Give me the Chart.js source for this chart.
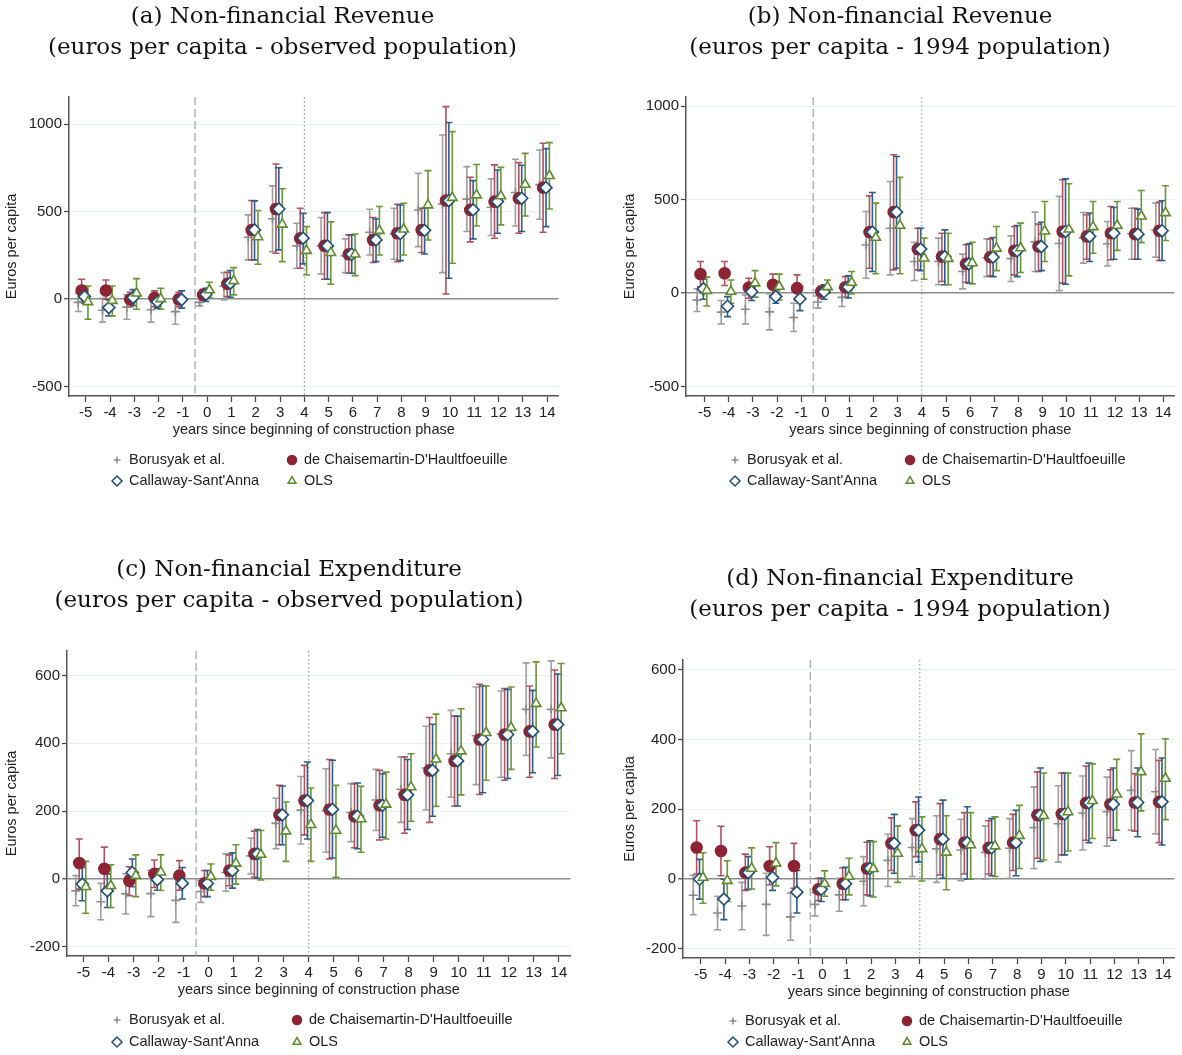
<!DOCTYPE html>
<html>
<head>
<meta charset="utf-8">
<script src="https://cdn.jsdelivr.net/npm/chart.js@4.4.1/dist/chart.umd.min.js"></script>
<style>
  body { margin: 0; background: #fff; width: 1182px; height: 1055px; position: relative; overflow: hidden; }
  canvas { position: absolute; }
</style>
</head>
<body>
<canvas id="revObs"></canvas>
<canvas id="rev94"></canvas>
<canvas id="expObs"></canvas>
<canvas id="exp94"></canvas>
<script>
// years relative to start of construction
const years = [-5, -4, -3, -2, -1, 0, 1, 2, 3, 4, 5, 6, 7, 8, 9, 10, 11, 12, 13, 14];
const revTicks = [-500, 0, 500, 1000];
const expTicks = [-200, 0, 200, 400, 600];
const eventLines = [-0.5, 4];

// (a) revenue, observed population
const revObsBor   = [-18, -63, -45, -60, -71, -18, 74, 354, 460, 305, 306, 248, 383, 375, 510, 545, 572, 526, 610, 655];
const revObsBorLo = [-70, -131, -114, -131, -143, -38, -4, 225, 272, 177, 145, 152, 253, 229, 301, 152, 387, 364, 419, 457];
const revObsBorHi = [34, 5, 25, 10, 0, 2, 152, 482, 648, 434, 467, 345, 514, 520, 720, 939, 758, 688, 800, 853];
const revObsDch   = [50, 50, 0, 8, 0, 25, 88, 396, 516, 349, 305, 257, 339, 377, 396, 564, 511, 558, 577, 638];
const revObsDchLo = [-15, 0, -42, -42, -42, -8, 15, 225, 263, 177, 114, 149, 210, 215, 267, 30, 328, 349, 377, 383];
const revObsDchHi = [114, 110, 40, 48, 40, 57, 154, 564, 773, 520, 495, 368, 467, 543, 520, 1101, 697, 768, 781, 892];
const revObsCs    = [15, -48, 10, -15, -2, 28, 92, 396, 516, 349, 305, 257, 339, 376, 394, 564, 511, 558, 577, 638];
const revObsCsLo  = [-23, -95, -35, -51, -51, -13, 11, 225, 282, 202, 114, 149, 215, 221, 259, 120, 345, 377, 387, 415];
const revObsCsHi  = [59, -4, 55, 25, 48, 63, 164, 562, 752, 491, 495, 368, 459, 539, 520, 1010, 678, 739, 766, 861];
const revObsOls   = [-15, -8, 34, 2, null, 53, 105, 356, 428, 278, 266, 257, 392, 400, 538, 581, 595, 590, 656, 706];
const revObsOlsLo = [-114, -95, -57, -57, null, 10, 25, 200, 215, 139, 86, 135, 253, 253, 339, 206, 419, 425, 476, 516];
const revObsOlsHi = [76, 76, 118, 63, null, 97, 181, 507, 632, 415, 442, 373, 530, 549, 735, 958, 770, 754, 834, 895];

// (b) revenue, 1994 population
const rev94Bor   = [-37, -101, -86, -100, -130, -47, -22, 258, 348, 170, 170, 116, 190, 185, 275, 266, 296, 265, 318, 337];
const rev94BorLo = [-98, -164, -164, -196, -205, -80, -71, 80, 98, 68, 45, 23, 89, 63, 116, 14, 161, 146, 182, 193];
const rev94BorHi = [23, -39, -9, -4, -54, -14, 27, 437, 598, 273, 295, 209, 291, 307, 434, 518, 432, 384, 455, 482];
const rev94Dch   = [102, 107, 30, 45, 27, 9, 32, 327, 434, 236, 196, 157, 193, 227, 250, 330, 304, 321, 316, 334];
const rev94DchLo = [34, 41, -27, -14, -39, -27, -21, 134, 125, 125, 63, 59, 93, 98, 116, 54, 182, 179, 182, 175];
const rev94DchHi = [170, 170, 80, 102, 98, 39, 89, 521, 741, 348, 321, 259, 291, 357, 370, 607, 420, 464, 455, 488];
const rev94Cs    = [23, -70, 8, -18, -30, 8, 33, 327, 434, 236, 196, 157, 193, 227, 250, 330, 304, 321, 316, 334];
const rev94CsLo  = [-32, -125, -39, -54, -93, -32, -25, 116, 134, 121, 45, 54, 89, 89, 121, 48, 170, 182, 182, 175];
const rev94CsHi  = [75, -18, 54, 18, 36, 45, 93, 539, 732, 348, 339, 264, 298, 362, 380, 612, 429, 459, 450, 495];
const rev94Ols   = [14, 9, 54, 36, null, 34, 57, 298, 362, 187, 185, 162, 240, 242, 332, 342, 355, 362, 412, 430];
const rev94OlsLo = [-68, -54, -21, -36, null, 0, -4, 104, 104, 75, 45, 50, 121, 111, 170, 93, 214, 229, 271, 282];
const rev94OlsHi = [86, 71, 121, 102, null, 71, 116, 482, 620, 295, 321, 273, 357, 375, 491, 586, 491, 491, 550, 575];

// (c) expenditure, observed population
const expObsBor   = [-35, -67, -44, -43, -63, -37, 19, 68, 164, 203, 202, 196, 233, 264, 327, 369, 422, 427, 500, 500];
const expObsBorLo = [-79, -120, -103, -111, -128, -69, -36, 15, 89, 103, 79, 110, 143, 167, 204, 241, 278, 300, 364, 357];
const expObsBorHi = [10, -13, 15, 25, 3, -5, 74, 121, 238, 302, 325, 281, 323, 360, 450, 497, 566, 554, 637, 643];
const expObsDch   = [47, 30, -5, 15, 10, -13, 25, 74, 189, 231, 205, 185, 217, 248, 320, 348, 411, 426, 435, 455];
const expObsDchLo = [-30, -34, -49, -25, -33, -52, -20, 5, 101, 130, 59, 92, 115, 135, 167, 215, 249, 291, 300, 296];
const expObsDchHi = [118, 94, 36, 56, 54, 25, 71, 141, 276, 335, 352, 281, 320, 360, 476, 480, 574, 561, 569, 616];
const expObsCs    = [-15, -35, 19, -2, -13, -13, 25, 74, 189, 231, 205, 185, 217, 248, 320, 348, 411, 426, 435, 455];
const expObsCsLo  = [-64, -84, -23, -33, -59, -52, -27, 2, 101, 118, 62, 89, 123, 146, 185, 215, 254, 296, 313, 305];
const expObsCsHi  = [34, 15, 59, 30, 34, 25, 77, 146, 274, 345, 350, 283, 310, 352, 456, 480, 569, 559, 556, 604];
const expObsOls   = [-23, -20, 10, 20, null, 7, 46, 72, 141, 160, 143, 177, 220, 271, 353, 377, 431, 446, 517, 504];
const expObsOlsLo = [-101, -84, -52, -34, null, -33, -15, -3, 52, 52, 5, 79, 118, 170, 214, 248, 291, 323, 389, 369];
const expObsOlsHi = [52, 42, 71, 71, null, 44, 101, 143, 227, 268, 276, 273, 315, 369, 486, 502, 569, 566, 640, 635];

// (d) expenditure, 1994 population
const exp94Bor   = [-47, -98, -78, -73, -109, -73, -46, -7, 53, 90, 86, 83, 76, 88, 147, 158, 189, 193, 254, 250];
const exp94BorLo = [-103, -146, -146, -162, -176, -106, -93, -77, -22, 7, -10, -5, -1, 2, 30, 48, 83, 94, 140, 129];
const exp94BorHi = [10, -50, -10, 16, -41, -40, 2, 64, 128, 173, 181, 171, 152, 173, 264, 267, 295, 292, 368, 371];
const exp94Dch   = [90, 80, 18, 37, 37, -30, -14, 30, 102, 140, 114, 104, 89, 104, 183, 186, 218, 214, 219, 221];
const exp94DchLo = [14, 9, -33, -17, -27, -62, -60, -46, 24, 64, 11, 14, 14, 24, 59, 69, 111, 118, 137, 104];
const exp94DchHi = [167, 151, 71, 92, 102, 2, 32, 105, 175, 221, 216, 190, 167, 185, 307, 304, 324, 313, 302, 340];
const exp94Cs    = [-1, -58, 18, 4, -38, -30, -14, 30, 102, 140, 114, 104, 89, 104, 183, 186, 218, 214, 219, 221];
const exp94CsLo  = [-58, -117, -30, -33, -98, -65, -60, -49, 16, 48, 2, -1, 9, 9, 50, 69, 104, 111, 121, 97];
const exp94CsHi  = [56, -1, 64, 43, 24, 2, 33, 109, 185, 235, 226, 207, 173, 197, 318, 304, 332, 318, 318, 347];
const exp94Ols   = [4, -5, 30, 45, null, -14, 7, 29, 73, 86, 76, 97, 94, 124, 181, 192, 224, 243, 307, 288];
const exp94OlsLo = [-70, -65, -29, -20, null, -50, -46, -52, -10, -6, -31, -1, 7, 30, 54, 80, 116, 140, 195, 170];
const exp94OlsHi = [75, 52, 89, 104, null, 23, 59, 107, 152, 178, 181, 190, 178, 211, 304, 304, 330, 343, 416, 402];

const seriesNames = ["Borusyak et al.", "de Chaisemartin-D'Haultfoeuille", "Callaway-Sant'Anna", "OLS"];

// marker look per estimator, in legend order
const looks = [
  { style: 'cross',   r: 4.5, shift: -0.31, line: '#9e9e9e', mark: '#8a8a8a', fill: '#8a8a8a', order: 4 },
  { style: 'circle',  r: 5.5, shift: -0.17, line: '#b5505d', mark: '#8c2433', fill: '#8c2433', order: 3 },
  { style: 'rectRot', r: 6,   shift: -0.05, line: '#2c5d8c', mark: '#1f4e79', fill: '#ffffff', order: 2 },
  { style: 'triangle',r: 5.5, shift: 0.09,  line: '#6a9637', mark: '#5e8a2e', fill: '#ffffff', order: 1 }
];

// ci bars, event-time reference lines
const ciPlugin = {
  id: 'ciBars',
  beforeDatasetsDraw(chart) {
    const { ctx, chartArea, scales: { x, y } } = chart;
    ctx.save();
    ctx.lineWidth = 1.3;
    ctx.strokeStyle = '#a8a8a8';
    ctx.setLineDash([8, 4]);
    let px = x.getPixelForValue(eventLines[0]);
    ctx.beginPath(); ctx.moveTo(px, chartArea.top); ctx.lineTo(px, chartArea.bottom); ctx.stroke();
    ctx.strokeStyle = '#8a8a8a';
    ctx.lineWidth = 1;
    ctx.setLineDash([1.5, 2.5]);
    px = x.getPixelForValue(eventLines[1]);
    ctx.beginPath(); ctx.moveTo(px, chartArea.top); ctx.lineTo(px, chartArea.bottom); ctx.stroke();
    ctx.setLineDash([]);

    chart.data.datasets.slice().sort((a, b) => b.order - a.order).forEach(ds => {
      ctx.strokeStyle = ds.ciColor;
      ctx.lineWidth = 1.6;
      ds.lo.forEach((lo, i) => {
        const hi = ds.hi[i];
        if (lo === null || hi === null) return;
        const cx = x.getPixelForValue(years[i] + ds.shift);
        const y1 = y.getPixelForValue(lo), y2 = y.getPixelForValue(hi);
        ctx.beginPath();
        ctx.moveTo(cx, y1); ctx.lineTo(cx, y2);
        ctx.moveTo(cx - 3.5, y1); ctx.lineTo(cx + 3.5, y1);
        ctx.moveTo(cx - 3.5, y2); ctx.lineTo(cx + 3.5, y2);
        ctx.stroke();
      });
    });
    ctx.restore();
  }
};

// two-column legend under each panel
const legendPlugin = {
  id: 'ciLegend',
  afterDraw(chart, args, opts) {
    const ctx = chart.ctx;
    ctx.save();
    ctx.font = '14.5px "Liberation Sans", Arial, sans-serif';
    ctx.textBaseline = 'middle';
    ctx.textAlign = 'left';
    seriesNames.forEach((name, k) => {
      const col = k % 2, row = Math.floor(k / 2);
      const mx = opts.cols[col], my = opts.rows[row];
      const lk = looks[k];
      ctx.strokeStyle = lk.mark;
      ctx.fillStyle = lk.fill;
      ctx.lineWidth = 1.5;
      Chart.helpers.drawPoint(ctx, { pointStyle: lk.style, radius: lk.r - 1, borderWidth: 1.5, rotation: 0 }, mx, my);
      ctx.fillStyle = '#222';
      ctx.fillText(name, mx + 12, my);
    });
    ctx.restore();
  }
};

function makeSeries(est, lo, hi, k) {
  const lk = looks[k];
  return {
    label: seriesNames[k],
    data: years.map((yr, i) => ({ x: yr + lk.shift, y: est[i] })),
    lo: lo, hi: hi, shift: lk.shift, ciColor: lk.line,
    order: lk.order,
    pointStyle: lk.style,
    pointRadius: lk.r,
    pointBorderWidth: 1.6,
    pointBorderColor: lk.mark,
    pointBackgroundColor: lk.fill,
    showLine: false
  };
}

function drawPanel(p) {
  const cv = document.getElementById(p.id);
  cv.width = p.w; cv.height = p.h;
  cv.style.left = p.left + 'px'; cv.style.top = p.top + 'px';
  const axisFont = { family: '"Liberation Sans", Arial, sans-serif', size: 15 };
  new Chart(cv, {
    type: 'scatter',
    data: { datasets: p.series },
    options: {
      responsive: false,
      animation: false,
      devicePixelRatio: 1,
      layout: { padding: { left: 0, right: p.padRight, top: 0, bottom: p.padBottom } },
      plugins: {
        legend: { display: false },
        tooltip: { enabled: false },
        title: {
          display: true,
          text: p.title,
          color: '#111',
          font: { family: '"DejaVu Serif", serif', size: 23, weight: 'normal', lineHeight: '31px' },
          padding: { top: 2, bottom: p.titleGap }
        },
        ciLegend: { cols: p.legCols, rows: p.legRows }
      },
      scales: {
        x: {
          type: 'linear', min: p.xMin, max: 14.46,
          afterBuildTicks: s => { s.ticks = years.map(v => ({ value: v })); },
          afterFit: s => { s.height = 50; s.paddingLeft = 0; s.paddingRight = 0; },
          grid: { drawOnChartArea: false, tickLength: 6, color: '#444', tickWidth: 1.2 },
          border: { color: '#555', width: 1.5 },
          ticks: { color: '#222', font: axisFont, padding: 2, maxRotation: 0, autoSkip: false, callback: v => String(v) },
          title: { display: true, text: 'years since beginning of construction phase', color: '#222',
                   font: { family: '"Liberation Sans", Arial, sans-serif', size: 14.5 }, padding: { top: 0, bottom: 7 } }
        },
        y: {
          min: p.yMin, max: p.yMax,
          afterBuildTicks: s => { s.ticks = p.yTicks.map(v => ({ value: v })); },
          afterFit: s => { s.width = p.yWidth; s.paddingTop = 0; s.paddingBottom = 0; },
          grid: {
            color: c => c.tick && c.tick.value === 0 ? '#8c8c8c' : '#e8f0f1',
            lineWidth: c => c.tick && c.tick.value === 0 ? 1.5 : 1,
            tickColor: '#444', tickLength: 5, tickWidth: 1.2
          },
          border: { color: '#555', width: 1.5 },
          ticks: { color: '#222', font: axisFont, padding: 2, callback: v => String(v) },
          title: { display: true, text: 'Euros per capita', color: '#222',
                   font: { family: '"Liberation Sans", Arial, sans-serif', size: 14.5 }, padding: { top: 3, bottom: 0 } }
        }
      }
    },
    plugins: [ciPlugin, legendPlugin]
  });
}

drawPanel({
  id: 'revObs', left: 0, top: 0, w: 566, h: 500, padRight: 1, padBottom: 54, titleGap: 33,
  title: ['(a) Non-financial Revenue', '(euros per capita - observed population)'],
  xMin: -5.69, yMin: -553, yMax: 1156, yTicks: revTicks, yWidth: 69,
  legCols: [117, 292], legRows: [460, 481],
  series: [
    makeSeries(revObsBor, revObsBorLo, revObsBorHi, 0),
    makeSeries(revObsDch, revObsDchLo, revObsDchHi, 1),
    makeSeries(revObsCs, revObsCsLo, revObsCsHi, 2),
    makeSeries(revObsOls, revObsOlsLo, revObsOlsHi, 3)
  ]
});

drawPanel({
  id: 'rev94', left: 618, top: 0, w: 564, h: 500, padRight: 0, padBottom: 54, titleGap: 33,
  title: ['(b) Non-financial Revenue', '(euros per capita - 1994 population)'],
  xMin: -5.77, yMin: -550, yMax: 1050, yTicks: revTicks, yWidth: 68,
  legCols: [117, 292], legRows: [460, 481],
  series: [
    makeSeries(rev94Bor, rev94BorLo, rev94BorHi, 0),
    makeSeries(rev94Dch, rev94DchLo, rev94DchHi, 1),
    makeSeries(rev94Cs, rev94CsLo, rev94CsHi, 2),
    makeSeries(rev94Ols, rev94OlsLo, rev94OlsHi, 3)
  ]
});

drawPanel({
  id: 'expObs', left: 0, top: 553, w: 578, h: 500, padRight: 0, padBottom: 47, titleGap: 34,
  title: ['(c) Non-financial Expenditure', '(euros per capita - observed population)'],
  xMin: -5.66, yMin: -227, yMax: 672, yTicks: expTicks, yWidth: 67,
  legCols: [117, 297], legRows: [467, 489],
  series: [
    makeSeries(expObsBor, expObsBorLo, expObsBorHi, 0),
    makeSeries(expObsDch, expObsDchLo, expObsDchHi, 1),
    makeSeries(expObsCs, expObsCsLo, expObsCsHi, 2),
    makeSeries(expObsOls, expObsOlsLo, expObsOlsHi, 3)
  ]
});

drawPanel({
  id: 'exp94', left: 618, top: 562, w: 564, h: 493, padRight: 0, padBottom: 47, titleGap: 34,
  title: ['(d) Non-financial Expenditure', '(euros per capita - 1994 population)'],
  xMin: -5.73, yMin: -227, yMax: 628, yTicks: expTicks, yWidth: 65,
  legCols: [115, 289], legRows: [459, 480],
  series: [
    makeSeries(exp94Bor, exp94BorLo, exp94BorHi, 0),
    makeSeries(exp94Dch, exp94DchLo, exp94DchHi, 1),
    makeSeries(exp94Cs, exp94CsLo, exp94CsHi, 2),
    makeSeries(exp94Ols, exp94OlsLo, exp94OlsHi, 3)
  ]
});
</script>
</body>
</html>
